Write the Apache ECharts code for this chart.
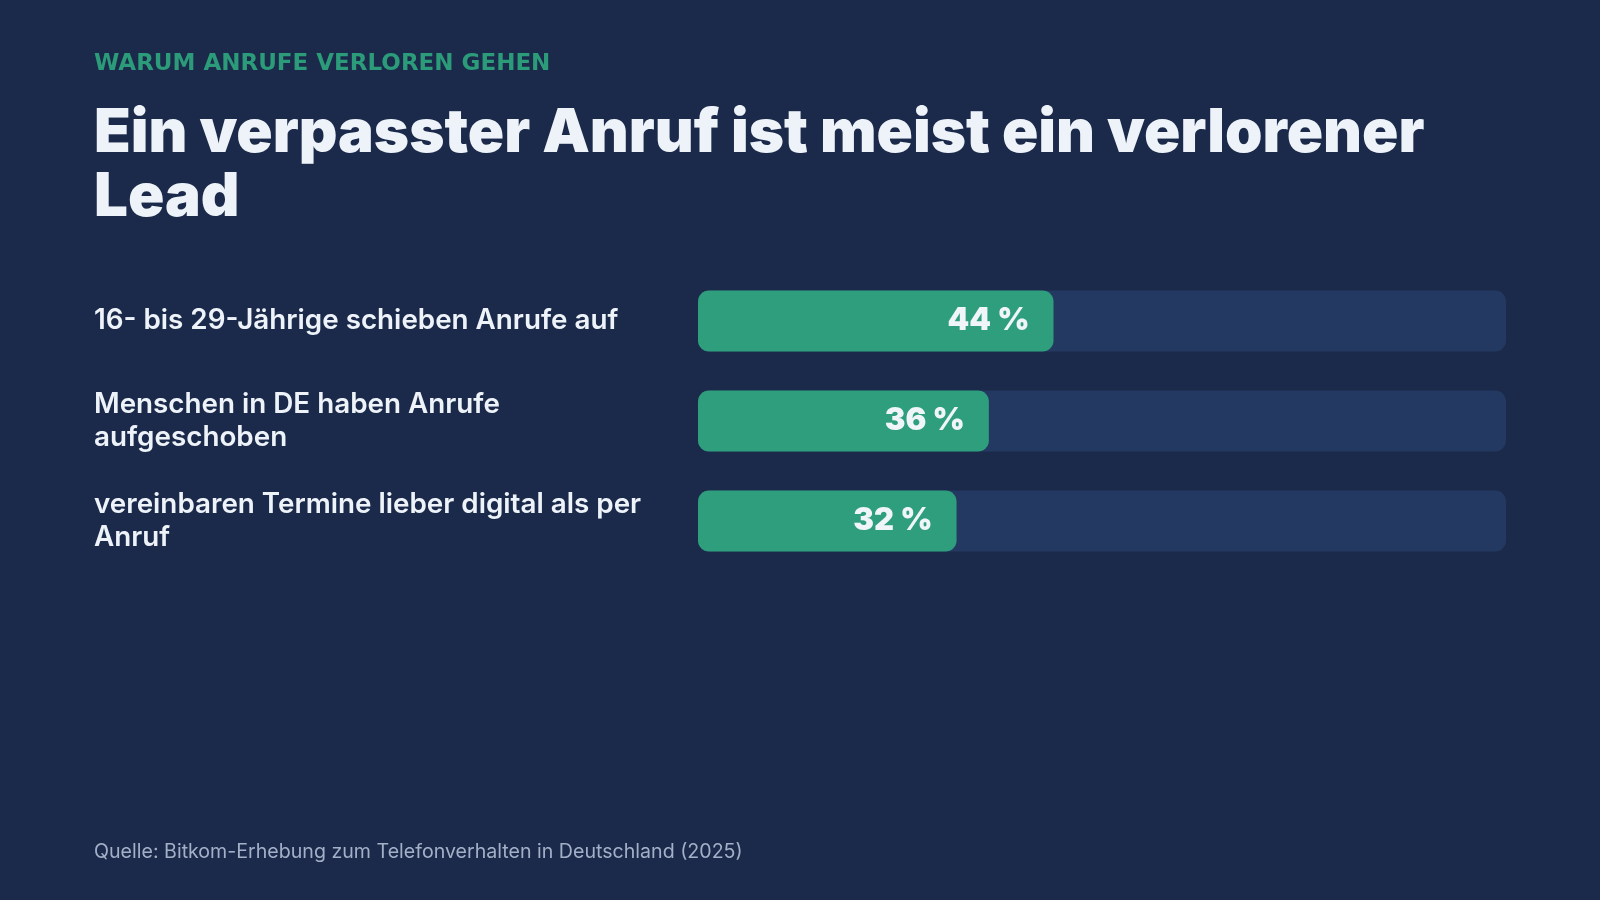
<!DOCTYPE html>
<html>
<head>
<meta charset="utf-8">
<title>Warum Anrufe verloren gehen</title>
<script src="https://cdn.jsdelivr.net/npm/echarts@6/dist/echarts.min.js"></script>
<style>
  html, body { margin: 0; padding: 0; background: #1b2a4a; }
  #chart { width: 1600px; height: 900px; }
</style>
</head>
<body>
<div id="chart"></div>
<script>
// Daten
var categories = [
    '16- bis 29-Jährige schieben Anrufe auf',
    'Menschen in DE haben Anrufe aufgeschoben',
    'vereinbaren Termine lieber digital als per Anruf'
];
var shares = [44, 36, 32];

var eyebrow = 'WARUM ANRUFE VERLOREN GEHEN';
var headline = 'Ein verpasster Anruf ist meist ein verlorener\nLead';
var source = 'Quelle: Bitkom-Erhebung zum Telefonverhalten in Deutschland (2025)';

var fontFamily = 'Inter, "Open Sans", sans-serif';

var chart = echarts.init(document.getElementById('chart'));

var option = {
    backgroundColor: '#1b2a4a',
    title: [
        {
            text: eyebrow,
            left: 94,
            top: 52,
            padding: 0,
            textStyle: {
                color: '#2b9b79',
                fontFamily: '"DejaVu Sans", sans-serif',
                fontSize: 23,
                fontWeight: 'bold',
                lineHeight: 24
            }
        },
        {
            text: headline,
            left: 94,
            top: 102,
            padding: 0,
            textStyle: {
                color: '#eef3f9',
                fontFamily: fontFamily,
                fontSize: 60,
                fontWeight: 900,
                lineHeight: 64
            }
        },
        {
            text: source,
            left: 94,
            top: 840,
            padding: 0,
            textStyle: {
                color: '#a4b0c8',
                fontFamily: fontFamily,
                fontSize: 19.6,
                fontWeight: 400,
                lineHeight: 24
            }
        }
    ],
    grid: {
        left: 698,
        right: 94,
        top: 271,
        height: 300
    },
    xAxis: {
        type: 'value',
        min: 0,
        max: 100,
        show: false
    },
    yAxis: {
        type: 'category',
        inverse: true,
        data: categories,
        axisLine: { show: false },
        axisTick: { show: false },
        splitLine: { show: false },
        axisLabel: {
            align: 'left',
            margin: 604,
            width: 575,
            overflow: 'break',
            color: '#eef3f9',
            fontFamily: fontFamily,
            fontSize: 27.8,
            fontWeight: 600,
            lineHeight: 33
        }
    },
    series: [
        {
            type: 'bar',
            data: shares,
            barWidth: 61,
            itemStyle: {
                color: '#2e9e7d',
                borderRadius: 11
            },
            showBackground: true,
            backgroundStyle: {
                color: '#243961',
                borderRadius: 11
            },
            label: {
                show: true,
                position: 'insideRight',
                distance: 24,
                formatter: '{c} %',
                color: '#f0f5fa',
                fontFamily: fontFamily,
                fontSize: 31,
                fontWeight: 900
            },
            silent: true
        }
    ]
};

chart.setOption(option);
</script>
</body>
</html>
